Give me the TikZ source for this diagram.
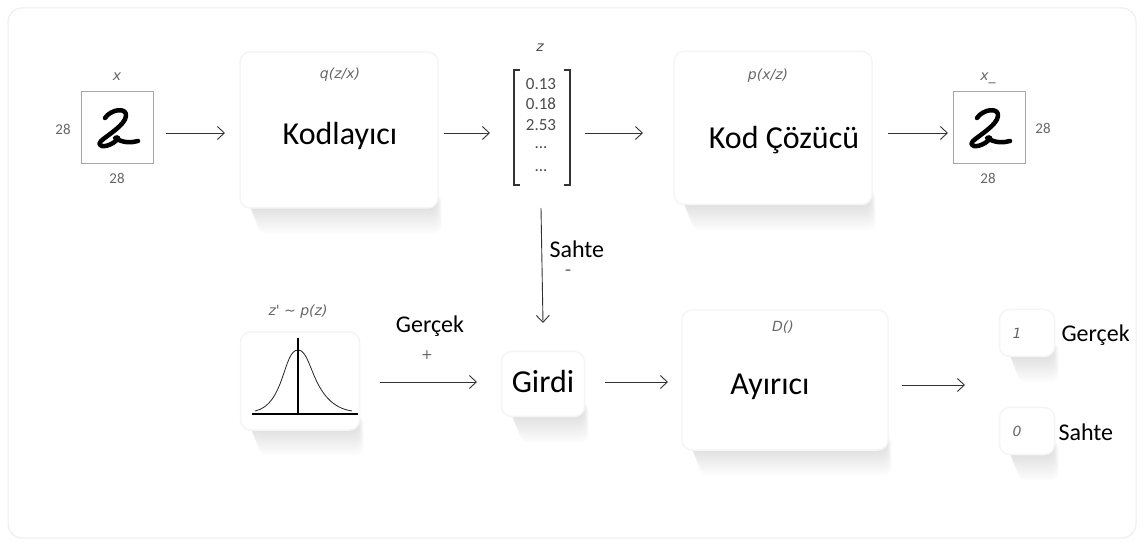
\documentclass[tikz,border=0pt]{standalone}
\usepackage{fontspec}
\setmainfont{Carlito}
\newfontfamily\handfont{DejaVu Sans}
\usetikzlibrary{arrows.meta}
\newcommand{\cardshadow}[4]{% x1 y1 x2 y2
  \foreach \i/\c in {14/1,13/1.8,12/2.6,11/3.4,10/4.2,9/5,8/5.8,7/6.6,6/7.4,5/8.2,4/9,3/9.8,2/10.6,1/11.4}{
    \fill[black!\c,rounded corners=8pt] (#1+8+\i*0.7,#4-14) rectangle (#3+\i*0.4-2,#4+\i*1.8);
  }}
\begin{document}
\begin{tikzpicture}[x=1pt,y=-1pt,
  card/.style={draw=black!4,line width=1.5pt,fill=white,rounded corners=10pt},
  arr/.style={-{Straight Barb[length=7pt,width=13pt]},line width=0.9pt,draw=black!80},
  big/.style={font=\fontsize{32}{34}\selectfont},
  mid/.style={font=\fontsize{24}{26}\selectfont},
  hand/.style={font=\handfont\itshape\fontsize{14}{16}\selectfont,text=black!60},
  dim/.style={font=\fontsize{15}{17}\selectfont,text=black!60},
  vec/.style={font=\fontsize{17}{19}\selectfont,text=black!70},
  imgbox/.style={draw=black!35,line width=0.8pt,fill=white,minimum width=72pt,minimum height=72pt,inner sep=0pt}]
\useasboundingbox (0,0) rectangle (1144,545);
\fill[white] (0,0) rectangle (1144,545);
\draw[black!7,line width=1pt,rounded corners=14pt] (8,8) rectangle (1136,538);

% shadows
\cardshadow{240}{52}{438}{208}
\cardshadow{674}{52}{872}{205}
\cardshadow{241}{332}{360}{430}
\cardshadow{502}{352}{585}{417}
\cardshadow{682}{310}{888}{450}
\cardshadow{1000}{310}{1055}{357}
\cardshadow{1000}{408}{1055}{455}

% cards
\node[card,minimum width=198pt,minimum height=156pt] (enc) at (339,130) {};
\node[card,minimum width=198pt,minimum height=153pt] (dec) at (773,128) {};
\node[card,minimum width=119pt,minimum height=98pt] (gauss) at (300,381) {};
\node[card,minimum width=83pt,minimum height=65pt] (girdi) at (543,384) {};
\node[card,minimum width=206pt,minimum height=140pt] (disc) at (785,380) {};
\node[card,minimum width=55pt,minimum height=47pt] (one) at (1027,333) {};
\node[card,minimum width=55pt,minimum height=47pt] (zero) at (1027,431) {};

% texts in cards
\node[hand] at (340,75) {q(z/x)};
\node[big] at (340,136) {Kodlayıcı};
\node[hand] at (768,76) {p(x/z)};
\node[big] at (784,140) {Kod Çözücü};
\node[hand] at (298,312) {z' \char"223C{} p(z)};
\node[big] at (543,381) {Girdi};
\node[hand] at (783,327) {D()};
\node[big] at (770,387) {Ayırıcı};
\node[hand] at (1017,333) {1};
\node[hand] at (1017,431) {0};
\node[mid,anchor=west] at (1058,335) {Gerçek};
\node[mid,anchor=west] at (1055,432) {Sahte};

% input image
\node[imgbox] (xin) at (117,127) {};
\node[hand] at (117,77) {x};
\node[dim] at (63,129) {28};
\node[dim] at (117,178) {28};
% output image
\node[imgbox] (xout) at (989,127) {};
\node[hand] at (988,78) {x\_};
\node[dim] at (1043,128) {28};
\node[dim] at (988,178) {28};

% handwritten 2 glyphs
\foreach \cx in {117,989}{
\begin{scope}[shift={(\cx,128)}]
\draw[line width=4.5pt,line cap=round,line join=round,black]
  (-12,-10) .. controls (-6,-19) and (10,-21) .. (9,-12)
  .. controls (8,-3) and (-8,6) .. (-16,13)
  .. controls (-21,19) and (-12,20) .. (-4,15)
  .. controls (2,11) and (3,8) .. (-2,10)
  .. controls (6,15) and (14,15) .. (21,13);
\end{scope}}

% latent vector
\node[vec] (zlab) at (540,48) {\handfont\itshape\fontsize{14}{16}\selectfont z};
\draw[line width=1.2pt,black!80] (520,70) -- (514,70) -- (514,185) -- (520,185);
\draw[line width=1.2pt,black!80] (564,70) -- (570,70) -- (570,185) -- (564,185);
\node[vec] at (541,84) {0.13};
\node[vec] at (541,104) {0.18};
\node[vec] at (541,125) {2.53};
\node[vec] at (541,148) {...};
\node[vec] at (541,171) {...};
\coordinate (vecB) at (541,208);

% gaussian
\draw[line width=0.8pt,black!85] (255,411) .. controls (285,405) and (283,350) .. (298,350)
  .. controls (313,350) and (311,405) .. (352,411);
\draw[line width=1.2pt,black] (252,414) -- (358,414);
\draw[line width=1.2pt,black] (298,338) -- (298,414);

% arrows
\draw[arr] (166,133) -- (225,133);
\draw[arr] (444,133) -- (490,133);
\draw[arr] (585,133) -- (643,133);
\draw[arr] (888,133) -- (948,133);
\draw[arr] (vecB) -- (girdi.north |- 0,323);
\node[mid,anchor=west] at (546,249) {Sahte};
\node[hand,font=\handfont\fontsize{18}{18}\selectfont] at (568,273) {-};
\draw[arr] (380,382) -- (477,382);
\node[mid] at (430,326) {Gerçek};
\node[hand] at (427,355) {+};
\draw[arr] (605,382) -- (668,382);
\draw[arr] (902,385) -- (965,385);
\end{tikzpicture}
\end{document}
